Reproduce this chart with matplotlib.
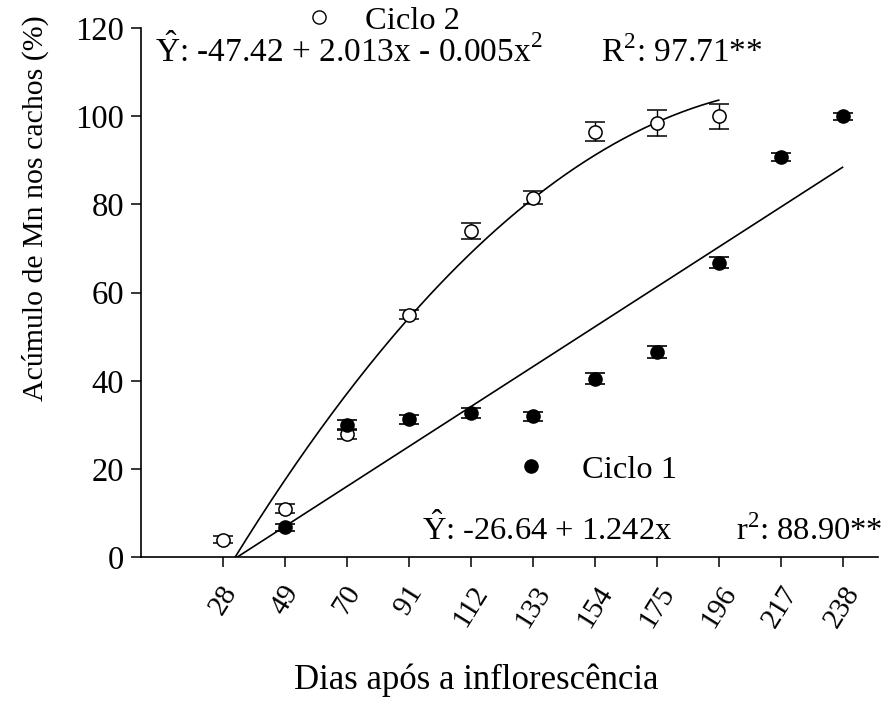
import numpy as np
import matplotlib.pyplot as plt

plt.rcParams['font.family'] = ['Liberation Serif', 'DejaVu Serif']
plt.rcParams['mathtext.fontset'] = 'custom'
plt.rcParams['mathtext.rm'] = 'Liberation Serif'

days = [28, 49, 70, 91, 112, 133, 154, 175, 196, 217, 238]

# Ciclo 2 (open circles)
x_c2 = [28, 49, 70, 91, 112, 133, 154, 175, 196]
y_c2 = [4.0, 11.0, 28.0, 55.0, 74.0, 81.5, 96.5, 98.5, 100.0]
e_c2 = [0.8, 1.0, 1.2, 1.0, 1.8, 1.5, 2.2, 3.0, 2.8]

# Ciclo 1 (filled circles)
x_c1 = [49, 70, 91, 112, 133, 154, 175, 196, 217, 238]
y_c1 = [6.8, 30.0, 31.3, 32.7, 32.0, 40.5, 46.5, 66.8, 90.8, 100.0]
e_c1 = [0.8, 1.2, 1.0, 1.2, 1.0, 1.3, 1.4, 1.3, 0.9, 0.8]

fig, ax = plt.subplots(figsize=(8.85, 7.01), dpi=100)
fig.subplots_adjust(left=0.159, right=0.992, top=0.960, bottom=0.205)

# fitted curves
p2 = np.polyfit(x_c2, y_c2, 2)
r2 = [r.real for r in np.roots(p2) if abs(r.imag) < 1e-9 and 0 < r.real < 60]
xx2 = np.linspace(r2[0] if r2 else 28, 196, 200)
ax.plot(xx2, np.polyval(p2, xx2), color='black', lw=1.2, zorder=2)

p1 = np.polyfit(x_c1, y_c1, 1)
xx1 = np.linspace(-p1[1] / p1[0], 238, 50)
ax.plot(xx1, np.polyval(p1, xx1), color='black', lw=1.2, zorder=2)

ax.errorbar(x_c2, y_c2, yerr=e_c2, fmt='o', mfc='white', mec='black', mew=1.1,
            ms=9.5, ecolor='black', elinewidth=1, capsize=7, capthick=1.2, zorder=3)
ax.errorbar(x_c1, y_c1, yerr=e_c1, fmt='o', mfc='black', mec='black',
            ms=9.5, ecolor='black', elinewidth=1, capsize=7, capthick=1.2, zorder=3)

ax.set_xlim(0, 250)
ax.set_ylim(0, 120)
ax.set_xticks(days)
ax.set_xticklabels([str(d) for d in days], rotation=58, ha='center', va='top',
                   fontsize=21)
ax.set_yticks(np.arange(0, 121, 20))
ax.tick_params(axis='y', labelsize=23.5, direction='out', length=7, width=1.1, pad=5)
ax.tick_params(axis='x', direction='out', length=7, width=1.1, pad=10)
for s in ['top', 'right']:
    ax.spines[s].set_visible(False)
for s in ['left', 'bottom']:
    ax.spines[s].set_linewidth(1.2)

ax.set_ylabel('Acúmulo de Mn nos cachos (%)', fontsize=21.5)
ax.yaxis.set_label_coords(-0.125, 0.66)
ax.set_xlabel('Dias após a inflorescência', fontsize=25)
ax.xaxis.set_label_coords(0.455, -0.2)

# legend / equation texts
ax.plot([60.3], [122.5], 'o', mfc='white', mec='black', ms=9.5, clip_on=False)
ax.text(76, 119.8, 'Ciclo 2', fontsize=23.4, va='baseline')
ax.text(4.9, 112.3, r'$\hat{\mathrm{Y}}$: -47.42 + 2.013x - 0.005x$^2$', fontsize=24, va='baseline')
ax.text(156, 112.3, r'R$^2$: 97.71**', fontsize=24, va='baseline')

ax.plot([132.5], [20.6], 'o', mfc='black', mec='black', ms=9.5)
ax.text(149.5, 17.9, 'Ciclo 1', fontsize=23.4, va='baseline')
ax.text(95.5, 3.9, r'$\hat{\mathrm{Y}}$: -26.64 + 1.242x', fontsize=23.4, va='baseline')
ax.text(202, 3.9, r'r$^2$: 88.90**', fontsize=23.4, va='baseline', clip_on=False)

fig.savefig('out.png', dpi=100)
